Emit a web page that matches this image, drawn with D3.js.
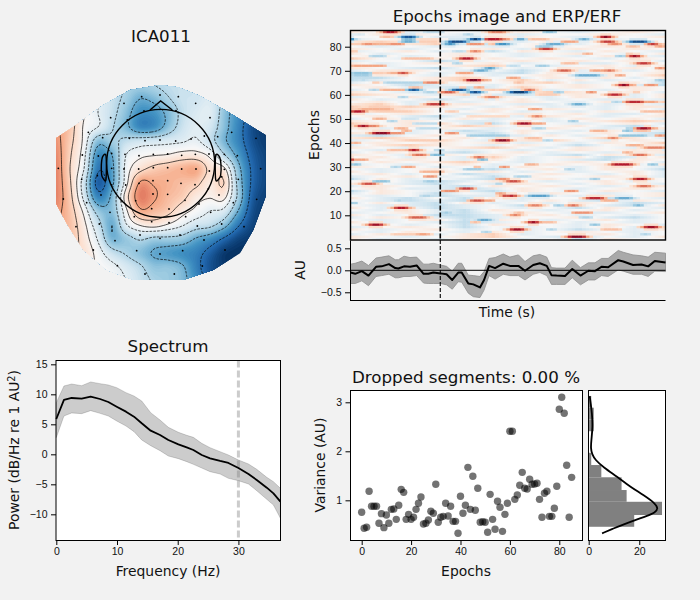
<!DOCTYPE html>
<html>
<head>
<meta charset="utf-8">
<script src="https://cdn.jsdelivr.net/npm/d3@7"></script>
<style>
  html, body { margin: 0; background: #f2f2f2; }
  svg { display: block; font-family: "DejaVu Sans", sans-serif; }
</style>
</head>
<body>
<svg id="fig" width="700" height="600"></svg>
<script>
// ---------- Component topography: weights on a regular map grid (rows run front to back) ----------
const topoWeights = [
  [.30,.20,.00,-.10,-.20,-.30,-.35,-.30,-.25,-.22,-.20,-.15,-.32,-.55,-.72,-.85],
  [.35,.25,.05,-.10,-.22,-.35,-.50,-.45,-.32,-.22,-.20,-.15,-.35,-.58,-.75,-.88],
  [.40,.30,.05,-.10,-.24,-.42,-.62,-.60,-.45,-.25,-.15,-.12,-.40,-.62,-.80,-.92],
  [.42,.28,.02,-.10,-.28,-.45,-.65,-.62,-.42,-.22,-.12,-.18,-.42,-.66,-.88,-.96],
  [.45,.25,.00,-.42,-.35,-.25,-.20,-.18,-.15,-.12,-.08,-.22,-.46,-.66,-.87,-.96],
  [.48,.22,-.05,-.62,-.50,-.10,.00,.03,.05,.10,.10,.00,-.28,-.56,-.82,-.93],
  [.50,.20,-.10,-.72,-.55,-.05,.15,.25,.30,.35,.38,.15,.08,-.42,-.78,-.92],
  [.50,.22,-.20,-.82,-.55,-.02,.42,.38,.35,.30,.25,.10,.20,-.36,-.78,-.92],
  [.50,.25,-.15,-.66,-.45,.12,.50,.42,.32,.25,.10,.05,.08,-.34,-.82,-.94],
  [.45,.28,.00,-.38,-.42,.00,.36,.32,.25,.10,.00,-.10,-.15,-.50,-.87,-.96],
  [.40,.30,.08,-.22,-.50,-.12,.05,.10,.02,-.08,-.20,-.25,-.42,-.72,-.92,-.96],
  [.35,.30,.12,-.12,-.46,-.38,-.28,-.35,-.35,-.38,-.52,-.62,-.78,-.92,-.97,-1],
  [.30,.25,.15,-.02,-.22,-.32,-.42,-.52,-.57,-.62,-.68,-.82,-.96,-1,-1,-1],
  [.25,.20,.12,.02,-.05,-.16,-.27,-.40,-.40,-.47,-.68,-.87,-.96,-1,-1,-1],
  [.20,.15,.10,.03,-.02,-.10,-.22,-.32,-.37,-.44,-.62,-.82,-.96,-1,-1,-1]
];
const topoLevels = [-.75, -.5, -.3, -.1, .04, .2, .4];

// Sensor layout and outlines, in map units
const sensorPos = [[305,80],[360,75],[415,80],[252,100],[467,100],[212,143],[262,150],[312,123],[360,118],[408,122],[510,143],[145,187],[188,203],[268,205],[315,212],[360,210],[407,213],[453,207],[493,198],[533,200],[575,187],[648,205],[127,255],[175,258],[215,250],[255,253],[297,257],[340,253],[383,252],[425,256],[466,253],[507,252],[553,253],[592,257],[55,295],[125,328],[172,317],[215,295],[252,297],[296,297],[340,293],[383,293],[425,297],[468,297],[508,303],[553,298],[595,328],[662,296],[70,387],[140,398],[183,375],[215,345],[257,345],[297,340],[339,332],[383,332],[423,340],[465,344],[505,356],[545,320],[650,388],[108,470],[178,462],[210,427],[245,392],[287,392],[339,372],[383,373],[435,391],[477,402],[537,375],[580,398],[283,440],[335,416],[387,417],[437,440],[512,427],[545,462],[612,470],[225,512],[300,495],[335,455],[387,458],[420,495],[472,468],[360,505],[492,510],[160,540],[290,542],[360,552],[428,542],[555,540],[232,587],[315,612],[403,612],[487,588]];
const hullOutline = [[360,45],[415,52],[480,78],[570,130],[677,195],[677,380],[640,480],[600,550],[520,600],[430,630],[280,630],[200,600],[130,540],[80,460],[48,400],[48,205],[100,170],[190,105],[270,60]];
const headCentre = [362, 280];
const headRadius = 162;
const noseOutline = [[330,120],[362,93],[397,120]];
const leftEar = [[198,258],[188,260],[184,285],[185,315],[190,326],[198,328]];
const rightEar = [[527,258],[538,260],[543,285],[542,315],[537,326],[527,328]];

// ---------- Epochs image: per-row wash (top row first) and the stronger streaks ----------
const washLevels = { "=": -.25, "-": -.12, ".": 0, "+": .11, "#": .25 };
const epochWash = [
  "+.-..-+.-.+.", "-++.-.-..+.-", "..+--.+.-..+", "-.+.+.-+.-..", "+#+.#--+.+-.", "##+#-=.+-++#",
  ".-.-.-.+.+.#", "+.-..+-.+.+.", "-.+-.=+.-+.-", "+-..+.-.+.-+", ".+-.+.-.-+.-", "#.-+-+.+.-+.",
  "-..=-.+.+.+-", "+-.+.+-.--+.", ".-..+#.-.+-+", "+.-=.+-.+.+-", "-++.-.=.-.-+", "##+-.-=+.+.+",
  ".+.-+-.+-+.#", "==.+#.-+.+-+", "=-.+#.#-+-.-", "-+.-+.+#-.+=", "+.=-.-+.+.-=", ".+--=-#.+.+.",
  "-+-.+#.-.-+.", "+.--+.+#+.+-", "#+.-#-=.+.-+", "-.+.-+.-+.-+", "+-.=.-+-.-.-", ".+-.-.+.-+.#",
  "+#-.+.--+-.-", "#+#+.-+-.-++", "##+.-+.+.-+-", "+##..+-.-+.#", "-.+.-.+.+--+", ".+-=..-+.-.+",
  "-+.-+-.-+.+-", "+.+.--+-.+#+", "#.+#-=+.-.+-", "-.+.#+-.+-=.", "+-.+.-.+.-.+", ".+-.=-+.-+.-",
  "+.-.-=+-.+-=", "-=.+.--+-.=-", "+#+.+-+..#+-", "-.##.-+#.-+.", ".+.+.+-.-+.#", "-+#+.-+.=.+.",
  "+.-.+#.-+.-+", ".-+.-.-.+.+-", "-+.-=.+-.-.+", "+.-+.+.-=+.-", ".+-.-#-.+=-+", "#.+.-+-.-=+.",
  "-+.+#.-.+.+-", "-.-.+-.+.+-+", "+.+-.-+.-+.-", ".-.+-=.+-+.=", "+-.+.+-.-.+-", ".+-+=-.+.-+-",
  "-.+-.=+..+.-", "=+-.-=.+-.+.", ".+-=-+.-.+-.", "+.-=.-+.-+.-", "-+.-=+.+.-.+", ".+--=-+.-.+.",
  "=+.--=+.-+.-", "-+.=.-.+.-.+", ".-.=--+.-+.+", "+-=.=+-..=.-", ".-=-=.-+-=+.", "-+-=+-.-+.=-",
  ".--=-.=.+-=+", "+-.=-.-.=+.-", ".-+-=+.-.+-.", "-.+-=.+.--.+", "+-.==-.+-.-.", "-+.-=-..+-=.",
  ".-.+=+.-.+-.", "+-.-=-.+-.-.", ".+-.=+..-+.-", "-.+.=.-.-+-.", "+-.+-.-.=.-+", ".-+.-+-.+.-.",
  "-+.-+#-..+-.", "+.-.+#.-=.-+", "+-.-+.-.=+.."
];
// Each streak: epoch row, first column, last column, amplitude
const epochStreaks = [
  [86,9,12,.8],[84,8,11,.3],[84,14,17,-.85],[83,14,17,-.45],[82,14,17,-.5],[83,0,0,-.6],[81,3,14,.35],[81,3,6,.45],[81,10,14,.45],
  [82,18,24,.25],[85,1,3,-.15],[86,20,25,-.25],[83,18,24,.2],[78,0,1,.3],[76,5,9,-.3],[75,14,22,.3],[72,0,9,.4],[69,0,5,-.4],[68,0,5,-.35],[66,2,4,-.25],
  [69,10,14,.35],[69,13,15,.65],[65,9,20,-.3],[65,20,24,.5],[65,6,7,.3],[62,8,18,.35],[62,16,18,-.85],[63,16,19,.3],[62,5,7,-.3],[61,20,23,-.3],[59,13,15,-.3],
  [54,2,11,.35],[55,4,11,.25],[53,0,3,.8],[56,21,25,.7],[50,6,9,.35],[49,10,12,-.3],[47,2,4,.85],[47,4,7,.5],[50,14,18,-.2],[48,17,24,-.25],[46,18,24,-.25],[46,12,15,.35],[45,14,16,.35],[44,6,10,.9],[44,10,14,.45],
  [82,27,31,-.9],[81,26,28,-.6],[83,33,35,-.95],[83,37,41,.8],[83,41,43,.5],[81,40,43,-.6],[81,38,40,.3],[81,32,36,.45],[85,31,33,-.3],[86,38,42,.5],[78,33,35,.5],[78,28,31,-.25],[75,30,33,.8],[73,28,30,-.3],
  [71,37,39,-.55],[70,34,37,-.5],[69,29,33,.4],[66,32,35,.95],[66,35,38,.35],[62,28,31,-.85],[61,25,28,.6],[61,33,35,-.9],[63,29,32,.25],[63,34,36,.4],[59,37,40,.5],[62,40,43,.25],[53,26,29,.25],[51,32,43,.2],[44,26,29,.45],[48,37,39,.3],
  [83,46,47,-.6],[83,49,54,.3],[86,53,56,-.4],[81,54,58,-.5],[80,51,55,-.35],[79,52,55,.7],[82,58,62,.4],[83,63,65,-.5],[84,69,71,.9],[82,69,72,.7],[81,71,74,.45],[82,77,81,-.9],[81,82,84,.7],[80,84,86,.4],[80,76,79,.3],
  [77,64,66,.35],[76,73,75,-.35],[76,77,79,.85],[77,76,77,.3],[73,58,62,.3],[73,79,82,.7],[72,51,54,-.35],[72,43,46,-.25],[70,57,60,.6],[70,66,72,.4],[70,70,72,.55],[68,62,68,-.5],[68,73,75,.4],[67,43,46,.4],[65,45,47,.3],
  [66,84,86,-.35],[71,84,86,.45],[64,74,76,.9],[64,76,78,.4],[64,81,84,.45],[61,44,48,-.95],[62,48,50,.55],[61,56,58,-.35],[61,65,67,.45],[60,51,57,.25],[60,71,74,.75],[61,78,79,.3],[57,76,80,.75],[57,80,84,.4],[56,61,64,-.5],[57,72,74,-.3],
  [54,49,52,.4],[51,50,52,.5],[53,80,86,.3],[48,46,49,.85],[48,49,53,.4],[46,50,53,-.3],[49,60,62,-.35],[45,66,70,.35],[45,75,77,-.4],[45,78,82,.3],[46,79,82,.85],[46,82,84,.4],[46,76,77,-.35],
  [40,0,2,.35],[37,16,18,.8],[37,10,15,.3],[35,17,20,.55],[35,22,25,-.45],[37,23,25,-.3],[33,0,4,.4],[33,0,0,.65],[31,0,2,-.4],[30,14,17,.4],[30,11,13,-.3],[28,19,25,.35],[26,20,23,.45],[23,3,6,.65],[24,6,10,-.4],[24,20,23,-.35],
  [18,19,22,-.3],[13,12,15,.8],[13,15,17,.3],[16,12,14,-.3],[9,16,20,.6],[6,5,8,.85],[2,18,21,.4],[2,11,22,.25],[15,0,1,-.4],
  [41,40,43,.9],[43,32,43,-.35],[34,34,36,.55],[33,35,37,-.45],[29,31,36,-.35],[30,34,35,.35],[30,41,43,.45],[25,40,43,.45],[23,40,41,-.35],[21,30,33,.7],[20,25,29,.45],[18,42,43,.8],[19,40,42,.4],[16,33,36,.65],[16,36,39,.4],[8,35,38,-.5],[7,33,35,.3],[11,25,27,-.35],[3,36,38,-.3],
  [42,71,73,.5],[43,74,81,-.4],[43,84,86,.45],[42,48,52,.3],[41,53,55,-.3],[39,76,80,.35],[38,81,86,.5],[35,78,81,.55],[36,75,77,.35],[31,72,77,.8],[31,48,51,.35],[31,82,84,-.4],[29,59,61,-.3],[25,78,81,.8],[25,66,68,-.35],[26,45,49,-.3],
  [22,79,82,.55],[24,43,46,.65],[18,43,45,.75],[18,49,54,-.55],[20,59,62,.45],[17,65,69,.75],[16,69,73,.35],[17,73,77,-.5],[14,49,52,.5],[14,60,62,.55],[14,78,80,-.45],[14,56,58,-.35],[11,61,66,.45],[9,63,66,-.3],[10,44,46,.5],[11,45,47,.3],
  [7,49,51,.85],[7,51,56,.3],[6,66,68,-.4],[5,81,84,.85],[4,44,47,.85],[4,54,56,-.3],[4,69,74,.3],[2,80,82,-.3],[1,60,64,.9],[1,58,60,.3]
];
const epochRowCount = 87;
const epochColCount = 87;
const epochTicks = [10,20,30,40,50,60,70,80];

// ---------- Average evoked trace, time as a fraction of the epoch ----------
const erpTime = [0,.015,.036,.057,.081,.099,.122,.142,.152,.170,.189,.210,.232,.247,.263,.286,.305,.323,.342,.353,.374,.390,.411,.424,.440,.459,.485,.506,.533,.554,.580,.601,.623,.638,.654,.681,.704,.730,.755,.776,.797,.818,.850,.866,.897,.924,.945,.966,1];
const erpMean = [-.05,-.08,-.02,-.12,.08,.09,.14,.05,.04,.09,.08,.11,-.08,-.08,-.05,-.07,-.09,-.22,-.05,-.05,-.30,-.32,-.39,-.22,.10,.05,.15,.10,.10,-.01,.12,.16,.10,-.11,-.12,-.13,.03,-.12,-.01,-.02,.08,.07,.23,.20,.12,.13,.09,.21,.18];
const erpUpper = [.14,.16,.21,.11,.28,.30,.33,.24,.24,.32,.29,.30,.14,.14,.16,.12,.09,-.02,.16,.16,-.11,-.12,-.14,-.03,.27,.29,.37,.30,.35,.20,.33,.36,.30,.06,.05,.05,.23,.06,.17,.17,.27,.27,.45,.41,.35,.33,.30,.41,.39];
const erpLower = [-.30,-.30,-.24,-.35,-.14,-.12,-.09,-.17,-.17,-.14,-.14,-.12,-.29,-.30,-.30,-.30,-.33,-.43,-.26,-.27,-.52,-.60,-.62,-.45,-.12,-.20,-.09,-.12,-.12,-.22,-.09,-.05,-.12,-.32,-.32,-.32,-.17,-.33,-.22,-.22,-.12,-.14,.01,-.02,-.09,-.09,-.14,-.02,-.03];
const stimTime = .285;
const erpTicks = [-.5, 0, .5];

// ---------- Power spectrum ----------
const specFreq = [0,1.26,2.53,4.18,5.66,7.2,8.57,9.95,11.48,12.8,14.07,15.55,17.09,18.46,20.11,21.48,22.58,23.96,25.33,26.98,28.35,30,31.65,33.02,34.67,35.77,36.92];
const specMean = [5.89,9.06,9.39,9.28,9.61,9.22,8.72,7.94,7.11,6.28,5.17,3.94,3.22,2.39,1.67,1.17,.72,-.11,-.67,-1.11,-1.44,-2.28,-3.28,-4.28,-5.56,-6.5,-7.89];
const specUpper = [8.61,11.39,11.72,11.44,12.06,11.78,11.56,11.11,10.28,9.72,8.89,6.94,5.72,4.5,3.67,3.17,2.83,1.83,1.11,.44,-.11,-.94,-1.61,-2.5,-3.83,-4.56,-5.67];
const specLower = [2.78,6.39,6.89,6.78,7.28,6.83,6.39,5.56,4.72,3.78,2.39,1.44,.61,-.28,-.72,-1.22,-1.67,-2.28,-2.89,-3.28,-4,-4.39,-4.94,-6.06,-7.5,-8.44,-10.67];
const specCutoff = 30;
const specXTicks = [0,10,20,30];
const specYTicks = [-10,-5,0,5,10,15];

// ---------- Per-epoch variance with its histogram and density ----------
const epochVariance = [.755,.429,.449,1.184,.878,.878,.878,.531,.728,.442,.701,.531,.816,.823,.612,.898,1.224,1.163,.612,.714,.612,.653,.816,.939,1.068,.517,.531,.599,.776,.735,1.327,.551,.653,.673,.939,.68,.878,.571,.571,.327,1.082,.735,.898,1.673,.816,1.49,.796,1.245,.551,.565,.551,.347,1.122,.612,.408,.98,.857,.367,.714,.939,2.408,2.408,1.02,1.109,1.306,1.571,1.245,1.231,1.429,1.327,1.333,1.347,1.02,.653,1.143,1.184,.673,.673,.837,1.286,2.857,3.102,2.776,1.714,.653,1.469];
const varBins = [[.46,.70,18],[.70,.97,29],[.97,1.21,15],[1.21,1.47,13],[1.47,1.72,5],[1.72,1.97,1],[2.41,2.65,2],[2.65,2.89,2],[2.89,3.13,1]];
const kdeVar = [.326,.428,.509,.598,.679,.748,.836,.938,1.108,1.278,1.482,1.673,1.822,1.945,2.06,2.231,2.503,2.775,2.979,3.128];
const kdeCount = [5.3,9.9,13.8,18.4,23,26.3,27.5,26.3,21.7,16.4,11.2,5.9,2.6,1.3,.8,1.05,1.6,1.3,.8,.4];
const scatterXTicks = [0,20,40,60,80];
const varTicks = [1,2,3];
const histTicks = [0,20];

// ---------- Shared helpers ----------
const svg = d3.select("#fig");
const minus = s => String(s).replace("-", "\u2212");
const TICK_PX = 10.5, LABEL_PX = 13.9, TITLE_PX = 16.7;

// Matplotlib RdBu_r stops, evaluated linearly
const rdbu = d3.scaleLinear()
  .domain([-1,-.8,-.6,-.4,-.2,0,.2,.4,.6,.8,1])
  .range(["#053061","#2166ac","#4393c3","#92c5de","#d1e5f0","#f7f7f7","#fddbc7","#f4a582","#d6604d","#b2182b","#67001f"])
  .clamp(true);

function drawAxis(axis, tx, ty) {
  const g = svg.append("g").attr("transform", `translate(${tx},${ty})`).call(axis);
  g.selectAll("text").attr("font-size", TICK_PX).attr("fill", "#111");
  g.selectAll("line,path").attr("stroke", "#000").attr("stroke-width", 1);
  return g;
}
function label(text, x, y, size, rotate) {
  const t = svg.append("text").attr("text-anchor", "middle").attr("font-size", size).attr("fill", "#111");
  if (rotate) t.attr("transform", `translate(${x},${y}) rotate(-90)`);
  else t.attr("x", x).attr("y", y);
  t.text(text);
  return t;
}
function frame(x0, x1, y0, y1) {
  svg.append("rect").attr("x", x0).attr("y", y0).attr("width", x1 - x0).attr("height", y1 - y0)
    .attr("fill", "none").attr("stroke", "#000").attr("stroke-width", 1);
}
function panel(x0, x1, y0, y1) {
  svg.append("rect").attr("x", x0).attr("y", y0).attr("width", x1 - x0).attr("height", y1 - y0).attr("fill", "#fff");
}

// ---------- Topography ----------
const tx = d3.scaleLinear().domain([48, 678]).range([56, 266]);
const ty = d3.scaleLinear().domain([45, 633]).range([85, 281]);
const UP = 6;

function catmull(p0, p1, p2, p3, t) {
  return .5 * (2*p1 + (p2-p0)*t + (2*p0-5*p1+4*p2-p3)*t*t + (3*p1-p0-3*p2+p3)*t*t*t);
}
const nr = topoWeights.length, nc = topoWeights[0].length;
const at = (r, c) => topoWeights[Math.max(0, Math.min(nr-1, r))][Math.max(0, Math.min(nc-1, c))];
const fw = (nc-1)*UP+1, fh = (nr-1)*UP+1;
const fine = new Float64Array(fw*fh);
for (let j = 0; j < fh; j++) {
  const r = Math.floor(j/UP), v = j/UP - r;
  for (let i = 0; i < fw; i++) {
    const c = Math.floor(i/UP), u = i/UP - c;
    const col = k => catmull(at(r+k,c-1), at(r+k,c), at(r+k,c+1), at(r+k,c+2), u);
    fine[j*fw+i] = catmull(col(-1), col(0), col(1), col(2), v);
  }
}
const fx = d3.scaleLinear().domain([.5, fw-.5]).range([56, 266]);
const fy = d3.scaleLinear().domain([.5, fh-.5]).range([85, 281]);
const topoPath = d3.geoPath(d3.geoTransform({ point(x, y) { this.stream.point(fx(x), fy(y)); } }));

svg.append("clipPath").attr("id", "hull").append("polygon")
  .attr("points", hullOutline.map(p => [tx(p[0]), ty(p[1])].join(",")).join(" "));
const topo = svg.append("g").attr("clip-path", "url(#hull)");
topo.append("rect").attr("x", 56).attr("y", 85).attr("width", 210).attr("height", 196).attr("fill", rdbu(-1));
const fillSteps = d3.range(-1, 1, 1/48);
topo.selectAll("path.band").data(d3.contours().size([fw, fh]).thresholds(fillSteps)(fine)).join("path")
  .attr("class", "band").attr("d", topoPath).attr("fill", d => rdbu(d.value + 1/96));
topo.selectAll("path.iso").data(d3.contours().size([fw, fh]).thresholds(topoLevels)(fine)).join("path")
  .attr("class", "iso").attr("d", topoPath).attr("fill", "none").attr("stroke", "#000")
  .attr("stroke-width", .75).attr("stroke-opacity", .9)
  .attr("stroke-dasharray", d => d.value < 0 ? "2.6,1.2" : null);
topo.selectAll("circle").data(sensorPos).join("circle")
  .attr("cx", d => tx(d[0])).attr("cy", d => ty(d[1])).attr("r", .9).attr("fill", "#000");

const headLine = d3.line().x(d => tx(d[0])).y(d => ty(d[1]));
const earLine = d3.line().x(d => tx(d[0])).y(d => ty(d[1])).curve(d3.curveCardinalClosed);
const head = svg.append("g").attr("fill", "none").attr("stroke", "#000").attr("stroke-width", 1.4);
head.append("circle").attr("cx", tx(headCentre[0])).attr("cy", ty(headCentre[1]))
  .attr("r", tx(headCentre[0] + headRadius) - tx(headCentre[0]));
head.append("path").attr("d", headLine(noseOutline));
head.append("path").attr("d", earLine(leftEar));
head.append("path").attr("d", earLine(rightEar));
label("ICA011", 161, 42, TITLE_PX);

// ---------- Epochs image ----------
const imgLeft = 350.5, imgRight = 665.5, imgTop = 30.5, imgBottom = 240;
const colX = d3.scaleLinear().domain([0, epochColCount]).range([imgLeft, imgRight]);
const rowY = d3.scaleLinear().domain([0, epochRowCount]).range([imgBottom, imgTop]);

const cells = [];
const blocks = epochWash[0].length;
const cellVal = d3.range(epochRowCount).map(r => {
  const code = epochWash[epochRowCount - 1 - r];
  return d3.range(epochColCount).map(c => {
    const p = c / (epochColCount - 1) * (blocks - 1), i = Math.floor(p), f = p - i;
    const a = washLevels[code[i]], b = washLevels[code[Math.min(blocks-1, i+1)]];
    return a + (b - a) * f;
  });
});
// Stamp a streak cell, keeping whichever amplitude is stronger
function stamp(r, c, v) {
  if (r < 0 || r >= epochRowCount || c < 0 || c >= epochColCount) return;
  if (Math.abs(v) > Math.abs(cellVal[r][c])) cellVal[r][c] = v;
}
epochStreaks.forEach(([r, c0, c1, v]) => {
  for (let c = c0; c <= c1; c++) {
    const e = (c === c0 || c === c1) && c1 > c0 ? .82 : 1;
    stamp(r, c, v*e);
    if (Math.abs(v) >= .5) { stamp(r+1, c, v*.2); stamp(r-1, c, v*.2); }
  }
  if (Math.abs(v) >= .5) {
    stamp(r, c0-1, v*.45); stamp(r, c1+1, v*.45);
    stamp(r, c0-2, v*.25); stamp(r, c1+2, v*.25);
  }
});
cellVal.forEach((row, r) => row.forEach((v, c) => cells.push({ r, c, v })));
svg.append("g").selectAll("rect").data(cells).join("rect")
  .attr("x", d => colX(d.c)).attr("y", d => rowY(d.r + 1))
  .attr("width", colX(1) - colX(0) + .3).attr("height", rowY(0) - rowY(1) + .3)
  .attr("fill", d => rdbu(d.v));
svg.append("rect").attr("x", imgLeft).attr("y", imgTop).attr("width", imgRight - imgLeft)
  .attr("height", imgBottom - imgTop).attr("fill", "none").attr("stroke", "#000").attr("stroke-width", 1.4);

const epochY = d3.scaleLinear().domain([10, 80]).range([215.3, 46.7]);
drawAxis(d3.axisLeft(epochY).tickValues(epochTicks).tickSize(5).tickPadding(3.5), imgLeft - .5, 0).select(".domain").remove();
label("Epochs", 319, 135, LABEL_PX, true);
label("Epochs image and ERP/ERF", 507, 22, TITLE_PX);

const erpX = d3.scaleLinear().domain([0, 1]).range([imgLeft, imgRight]);
const erpY = d3.scaleLinear().domain([-.682, .689]).range([300.3, 240]);
const erpBand = d3.area().x((d, i) => erpX(erpTime[i])).y0((d, i) => erpY(erpLower[i])).y1((d, i) => erpY(erpUpper[i]));
svg.append("path").attr("d", erpBand(erpTime)).attr("fill", "#a9a9a9").attr("stroke", "#8d8d8d").attr("stroke-width", .8);
svg.append("line").attr("x1", imgLeft).attr("x2", imgRight).attr("y1", erpY(0)).attr("y2", erpY(0)).attr("stroke", "#000").attr("stroke-width", 1);
svg.append("path").attr("d", d3.line().x((d, i) => erpX(erpTime[i])).y(d => erpY(d))(erpMean))
  .attr("fill", "none").attr("stroke", "#000").attr("stroke-width", 2).attr("stroke-linejoin", "round");
// Event marker through the image and the trace
svg.append("line").attr("x1", erpX(stimTime)).attr("x2", erpX(stimTime)).attr("y1", imgTop).attr("y2", imgBottom)
  .attr("stroke", "#000").attr("stroke-width", 1.6).attr("stroke-dasharray", "5,2");
svg.append("line").attr("x1", erpX(stimTime)).attr("x2", erpX(stimTime)).attr("y1", imgBottom).attr("y2", 300)
  .attr("stroke", "#000").attr("stroke-width", 1.1).attr("stroke-dasharray", "4,2");
drawAxis(d3.axisLeft(erpY).tickValues(erpTicks).tickFormat(d => minus(d3.format(".1f")(d))).tickSize(5).tickPadding(3.5).tickSizeOuter(0), imgLeft - .5, 0);
svg.append("line").attr("x1", imgLeft - .5).attr("x2", imgRight).attr("y1", 300.5).attr("y2", 300.5).attr("stroke", "#000");
label("AU", 305, 270, LABEL_PX, true);
label("Time (s)", 507, 317, LABEL_PX);

// ---------- Spectrum ----------
const sx = d3.scaleLinear().domain([0, 36.9]).range([56.3, 280.3]);
const sy = d3.scaleLinear().domain([-14.33, 15.67]).range([540.3, 360.3]);
panel(56, 280.5, 360.5, 540.5);
const specBand = d3.area().x((d, i) => sx(specFreq[i])).y0((d, i) => sy(specLower[i])).y1((d, i) => sy(specUpper[i]));
svg.append("path").attr("d", specBand(specFreq)).attr("fill", "rgba(0,0,0,.2)").attr("stroke", "rgba(0,0,0,.2)").attr("stroke-width", .8);
svg.append("line").attr("x1", sx(specCutoff)).attr("x2", sx(specCutoff)).attr("y1", 360.5).attr("y2", 540.5)
  .attr("stroke", "rgba(128,128,128,.4)").attr("stroke-width", 3).attr("stroke-dasharray", "7,3");
svg.append("path").attr("d", d3.line().x((d, i) => sx(specFreq[i])).y(d => sy(d))(specMean))
  .attr("fill", "none").attr("stroke", "#000").attr("stroke-width", 1.8).attr("stroke-linejoin", "round");
frame(56, 280.5, 360.5, 540.5);
drawAxis(d3.axisBottom(sx).tickValues(specXTicks).tickSize(5).tickPadding(3).tickSizeOuter(0), 0, 540).select(".domain").remove();
drawAxis(d3.axisLeft(sy).tickValues(specYTicks).tickFormat(minus).tickSize(5).tickPadding(3.5), 56, 0).select(".domain").remove();
label("Spectrum", 168, 352, TITLE_PX);
label("Frequency (Hz)", 168, 576, LABEL_PX);
const powerLabel = label("Power (dB/Hz re 1 AU", 19, 450, LABEL_PX, true);
powerLabel.append("tspan").attr("dy", "-.45em").attr("font-size", LABEL_PX * .7).text("2");
powerLabel.append("tspan").attr("dy", ".31em").text(")");

// ---------- Variance scatter ----------
const ex = d3.scaleLinear().domain([-4.53, 89.4]).range([350.5, 582.5]);
const vy = d3.scaleLinear().domain([.184, 3.245]).range([540.3, 390.3]);
panel(350.5, 582.5, 390.5, 540.5);
svg.append("g").selectAll("circle").data(epochVariance).join("circle")
  .attr("cx", (d, i) => ex(i)).attr("cy", d => vy(d)).attr("r", 3.7)
  .attr("fill", "#000").attr("fill-opacity", .55);
frame(350.5, 582.5, 390.5, 540.5);
drawAxis(d3.axisBottom(ex).tickValues(scatterXTicks).tickSize(5).tickPadding(3).tickSizeOuter(0), 0, 540).select(".domain").remove();
drawAxis(d3.axisLeft(vy).tickValues(varTicks).tickFormat(d3.format("d")).tickSize(5).tickPadding(3.5), 350.5, 0).select(".domain").remove();
label("Dropped segments: 0.00 %", 466, 383, TITLE_PX);
label("Epochs", 466, 576, LABEL_PX);
label("Variance (AU)", 325, 465, LABEL_PX, true);

// ---------- Variance histogram ----------
const hx = d3.scaleLinear().domain([0, 30.3]).range([588.7, 665.3]);
panel(588.5, 665.5, 390.5, 540.5);
svg.append("g").selectAll("rect").data(varBins).join("rect")
  .attr("x", hx(0)).attr("width", d => hx(d[2]) - hx(0))
  .attr("y", d => vy(d[1])).attr("height", d => vy(d[0]) - vy(d[1]))
  .attr("fill", "#808080");
svg.append("path").attr("d", d3.line().x(d => hx(d)).y((d, i) => vy(kdeVar[i])).curve(d3.curveBasis)(kdeCount))
  .attr("fill", "none").attr("stroke", "#000").attr("stroke-width", 1.8);
frame(588.5, 665.5, 390.5, 540.5);
drawAxis(d3.axisBottom(hx).tickValues(histTicks).tickSize(5).tickPadding(3).tickSizeOuter(0), 0, 540).select(".domain").remove();
</script>
</body>
</html>
